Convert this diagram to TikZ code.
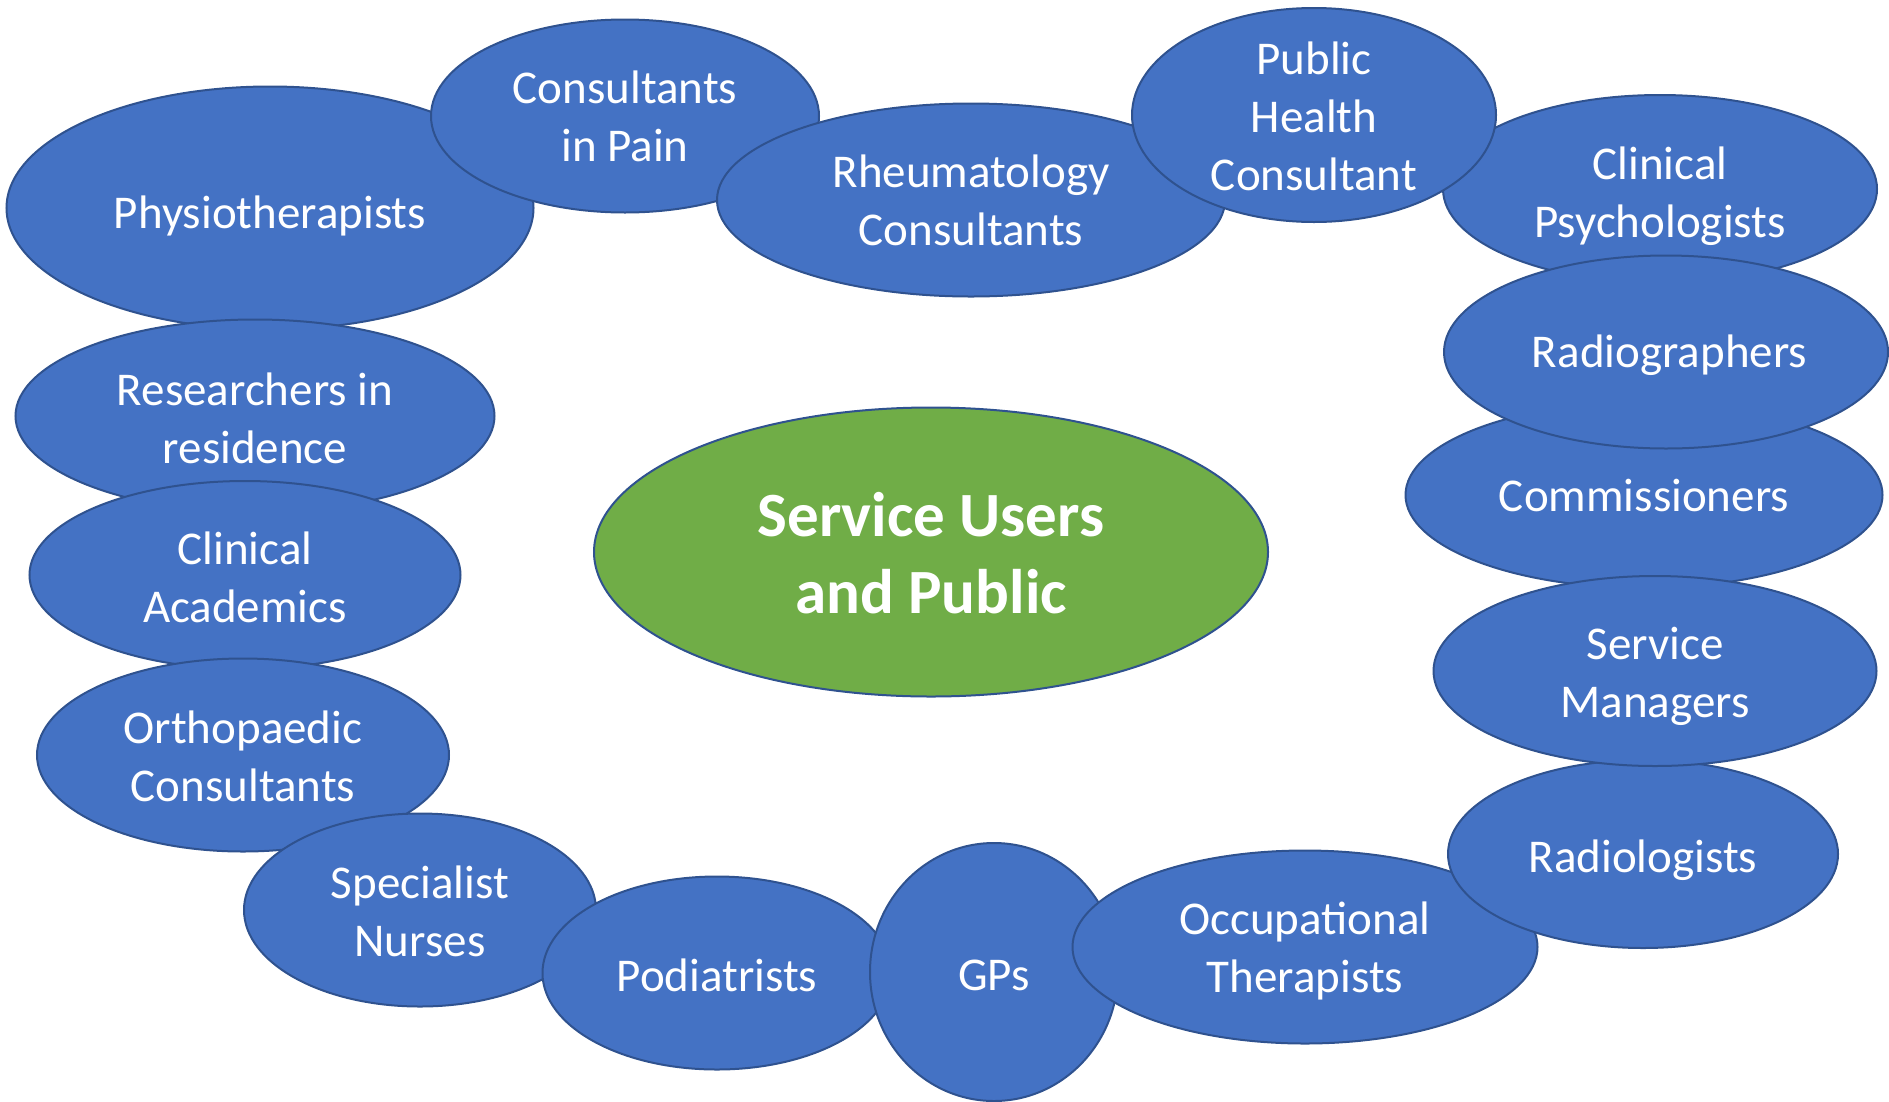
\documentclass[tikz,border=0pt]{standalone}
\usepackage{fontspec}
\setmainfont{Carlito}
\usetikzlibrary{shapes.geometric}
\definecolor{blobfill}{HTML}{4472C4}
\definecolor{blobline}{HTML}{2F528F}
\definecolor{hubfill}{HTML}{70AD47}
\tikzset{
  blob/.style={ellipse, draw=blobline, fill=blobfill, line width=2pt, inner sep=0pt, outer sep=0pt},
  hub/.style={ellipse, draw=blobline, fill=hubfill, line width=2pt, inner sep=0pt, outer sep=0pt},
  lbl/.style={text=white, align=center, inner sep=0pt, font=\fontsize{47}{58}\selectfont},
  hublbl/.style={text=white, align=center, inner sep=0pt, font=\fontsize{63}{77}\selectfont\bfseries},
}
% name, x, y, width, height, text, text shift down
\newcommand{\blobnode}[7]{%
  \node[blob, minimum width=#4pt, minimum height=#5pt] (#1) at (#2,#3) {};
  \node[lbl, yshift=-#7pt] (#1-t) at (#1.center) {#6};
}
\begin{document}
\begin{tikzpicture}[x=1pt,y=-1pt]
\useasboundingbox (0,0) rectangle (1889,1101);
\blobnode{physio}{270}{208}{527}{243}{Physiotherapists}{8}
\blobnode{pain}{625}{116}{388}{193}{Consultants\\in Pain}{0}
\blobnode{rheum}{971}{200}{508}{193}{Rheumatology\\Consultants}{0}
\blobnode{psych}{1660}{189}{434}{188}{Clinical\\Psychologists}{7}
\blobnode{ph}{1314}{115}{364}{214}{Public\\Health\\Consultant}{1}
\blobnode{comm}{1644}{495}{477}{186}{Commissioners}{0}
\blobnode{radiog}{1666}{352}{444}{193}{\hspace*{7pt}Radiographers}{3}
\blobnode{res}{255}{416}{479}{193}{Researchers in\\residence}{2}
\blobnode{acad}{245}{575}{431}{188}{Clinical\\Academics}{2}
\blobnode{ortho}{243}{755}{412}{193}{Orthopaedic\\Consultants}{1}
\blobnode{nurse}{420}{910}{352}{193}{Specialist\\Nurses}{1}
\blobnode{pod}{717}{973}{349}{193}{Podiatrists}{2}
\blobnode{gps}{994}{972}{248}{258}{GPs}{3}
\blobnode{ot}{1305}{947}{465}{193}{Occupational\\Therapists}{4}
\blobnode{radiol}{1643}{854}{390}{188}{Radiologists}{6}
\blobnode{sm}{1655}{671}{443}{190}{Service\\Managers}{5}
\node[hub, minimum width=674pt, minimum height=289pt] (hub) at (931,552) {};
\node[hublbl, yshift=-1pt] (hub-t) at (hub.center) {Service Users\\and Public};
\end{tikzpicture}
\end{document}
